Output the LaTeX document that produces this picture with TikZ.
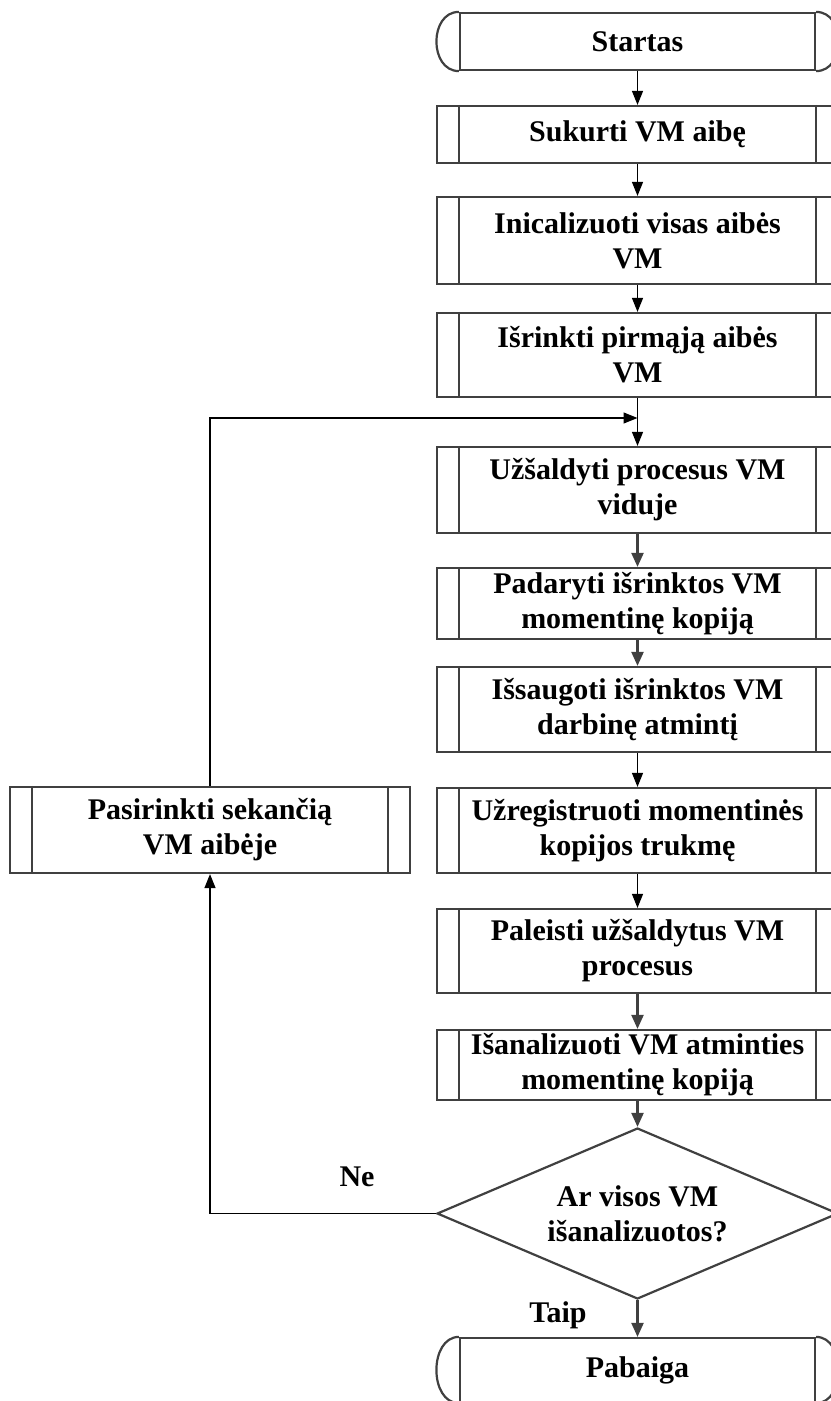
\documentclass[tikz,border=0pt]{standalone}
\usepackage{fontspec}
\setmainfont{Liberation Serif}
\usetikzlibrary{arrows.meta,shapes.geometric}
\definecolor{boxgray}{HTML}{404040}
\begin{document}
\begin{tikzpicture}
  [x=0.5pt, y=-0.5pt,
   font=\fontsize{15}{17.5}\selectfont\bfseries,
   predef/.style={rectangle, draw=boxgray, line width=1.1pt, align=center,
     minimum width=200.5pt, inner sep=1pt,
     append after command={
       ([xshift=11.5pt]\tikzlastnode.north west) edge[draw=boxgray, line width=1.1pt] ([xshift=11.5pt]\tikzlastnode.south west)
       ([xshift=-11.5pt]\tikzlastnode.north east) edge[draw=boxgray, line width=1.1pt] ([xshift=-11.5pt]\tikzlastnode.south east)}},
   terminal/.style={rectangle, draw=boxgray, line width=1.1pt, minimum width=177.5pt,
     append after command={
       (\tikzlastnode.north west) edge[draw=boxgray, line width=1.1pt, out=180, in=180, distance=15pt] (\tikzlastnode.south west)
       (\tikzlastnode.north east) edge[draw=boxgray, line width=1.1pt, out=0, in=0, distance=15pt] (\tikzlastnode.south east)}},
   decision/.style={diamond, draw=boxgray, line width=1.1pt, aspect=2.35, inner sep=0pt,
     align=center, minimum width=200.5pt, minimum height=85.5pt},
   arr/.style={-{Triangle[length=7pt,width=5.5pt]}, line width=0.6pt},
   arrg/.style={-{Triangle[length=7pt,width=6pt]}, draw=boxgray, line width=1.1pt}]

  \useasboundingbox (0,0) rectangle (830,1401);

  \node[terminal, minimum height=28.5pt] (start) at (637.5,41.5) {Startas};
  \node[predef, minimum height=28.5pt] (s1) at (637.5,134.5) {Sukurti VM aibę};
  \node[predef, minimum height=43.5pt] (s2) at (637.5,240.5) {Inicalizuoti visas aibės\\VM};
  \node[predef, minimum height=42pt] (s3) at (637.5,355) {Išrinkti pirmąją aibės\\VM};
  \node[predef, minimum height=43pt] (s4) at (637.5,490) {Užšaldyti procesus VM\\viduje};
  \node[predef, minimum height=35.5pt] (s5) at (637.5,603.5) {Padaryti išrinktos VM\\momentinę kopiją};
  \node[predef, minimum height=42.5pt] (s6) at (637.5,709.5) {Išsaugoti išrinktos VM\\darbinę atmintį};
  \node[predef, minimum height=42.5pt] (s7) at (637.5,830.5) {Užregistruoti momentinės\\kopijos trukmę};
  \node[predef, minimum height=42pt] (s8) at (637.5,951) {Paleisti užšaldytus VM\\procesus};
  \node[predef, minimum height=35pt] (s9) at (637.5,1065) {Išanalizuoti VM atminties\\momentinę kopiją};
  \node[decision] (dec) at (637.5,1213.5) {Ar visos VM\\išanalizuotos?};
  \node[terminal, minimum height=32pt] (end) at (637.5,1370) {Pabaiga};

  \node[predef, minimum width=200pt, minimum height=43pt] (next) at (210,830) {Pasirinkti sekančią\\VM aibėje};
  \coordinate (j) at (637.5,418);

  \node (ne) at (357,1177) {Ne};
  \node (taip) at (558,1315) {Taip};

  \foreach \from/\to/\sty in {start/s1/arr, s1/s2/arr, s2/s3/arr, s3/s4/arr, s4/s5/arrg,
                              s5/s6/arrg, s6/s7/arr, s7/s8/arr, s8/s9/arrg, s9/dec/arrg, dec/end/arrg}
    \draw[\sty] (\from) -- (\to);

  \draw[arr] (dec.west) -| (next.south);
  \draw[arr] (next.north) |- (j);
\end{tikzpicture}
\end{document}
